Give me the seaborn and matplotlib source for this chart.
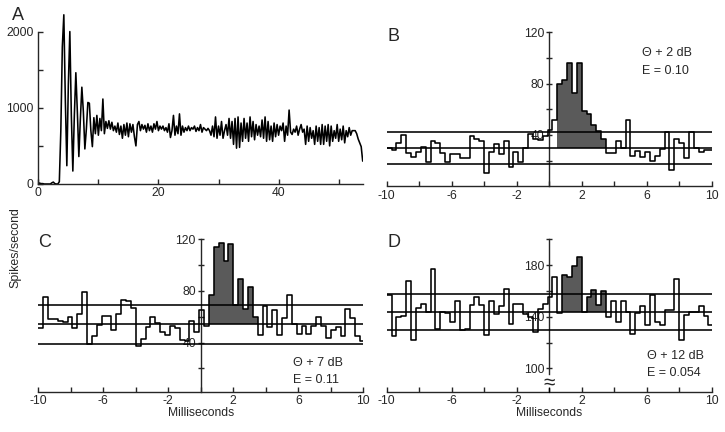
import numpy as np
import pandas as pd
import matplotlib
matplotlib.use("Agg")
import matplotlib.pyplot as plt
import seaborn as sns

# ---------------- data ----------------
# Panel A: PSTH, 0.25 ms bins starting at 0 ms (spikes/second)
a_bin_ms = 0.25
a_rate = [
    15, 10, 5, 5, 0, 0, 0, 0, 0, 15, 25, 5, 0, 0, 30, 700, 1800, 2220, 1100, 240,
    1300, 2000, 900, 170, 900, 1460, 950, 360, 850, 1270, 950, 460, 720, 1070, 1060, 700, 490, 870, 660, 900,
    640, 860, 700, 1115, 660, 820, 730, 830, 720, 810, 700, 760, 680, 800, 650, 760, 600, 780, 640, 800,
    620, 790, 680, 780, 620, 500, 780, 820, 700, 780, 720, 770, 680, 790, 700, 760, 680, 790, 720, 820,
    700, 760, 720, 760, 700, 740, 680, 790, 610, 700, 900, 640, 760, 660, 920, 640, 760, 680, 740, 700,
    760, 700, 740, 720, 760, 690, 740, 700, 780, 680, 740, 720, 700, 730, 700, 640, 760, 620, 880, 600,
    760, 640, 820, 600, 700, 780, 640, 860, 600, 820, 520, 860, 470, 880, 480, 800, 560, 860, 600, 800,
    560, 880, 620, 820, 580, 780, 640, 760, 620, 840, 600, 880, 560, 820, 580, 760, 560, 800, 620, 780,
    640, 760, 700, 800, 560, 760, 640, 970, 680, 650, 720, 680, 760, 640, 720, 780, 680, 720, 520, 760,
    560, 740, 600, 700, 520, 760, 560, 740, 520, 780, 520, 760, 560, 780, 500, 760, 560, 700, 600, 780,
    560, 720, 580, 760, 540, 700, 620, 740, 640, 700, 700, 700, 660, 590, 540, 490, 300,
]
a_xticks = [0, 10, 20, 30, 40, 50]
a_xticklabels = ["0", "", "20", "", "40", ""]
a_yticks = [0, 500, 1000, 1500, 2000]
a_yticklabels = ["0", "", "1000", "", "2000"]

# Panels B-D: cross-correlation histograms, 0.3 ms bins from -10 ms
hist_start_ms = -10.0
hist_bin_ms = 0.3
response_window = (0.5, 3.5)

b_rate = [30, 28.5, 33.5, 40, 26, 23, 27, 31, 19, 35,
          34, 26, 19, 25, 25, 22, 22, 39, 37, 35,
          10, 27, 33, 25, 35, 15, 27, 19, 30, 41,
          37, 36, 39, 44, 52, 80, 83, 96, 73, 96,
          59, 56, 48, 43, 37, 26, 26, 35, 30, 52,
          24, 27.5, 23, 27, 20, 24, 29, 42, 13, 37,
          34, 22, 42, 30, 27, 28, 28]
c_rate = [51, 75, 58, 58, 57, 56, 60, 51, 62, 79,
          39, 45, 53.5, 61, 61, 50, 62, 73, 72, 67,
          37, 43, 52, 60, 55, 48, 46, 53, 51, 42,
          41, 57, 48, 65, 53, 77, 114, 117.5, 103.5, 116.5,
          69, 89, 66, 83, 60, 46, 68, 52, 65, 46,
          59, 77, 54.5, 47, 53, 47, 53, 60, 53, 43.5,
          50, 52, 45, 66, 59, 45, 41]
d_rate = [157, 125, 140, 141, 168, 122, 147, 150, 143.5, 177,
          130.5, 144, 143, 136, 152.5, 130, 130.5, 149, 155.5, 149.5,
          126, 152, 142, 148, 161.5, 134.5, 150, 150, 142, 140,
          128, 146, 150, 155, 171, 143, 172.5, 171, 179.5, 186,
          143.5, 155, 161, 149.5, 160, 140, 152, 136, 152, 143.5,
          127, 143, 148, 133.5, 157, 136, 133.5, 145, 145, 169,
          122, 141.5, 144, 144, 148.5, 141, 133.5]

# reference lines: lower bound, mean, upper bound
b_lines = [17.5, 30.1, 42.6]
c_lines = [38.8, 54.2, 69.2]
d_lines = [129.5, 143.7, 158.0]

b_ylim = (0, 120)
c_ylim = (2, 120)
d_ylim = (82, 200)
b_yticks = [20, 40, 60, 80, 100, 120]
b_yticklabels = ["", "40", "", "80", "", "120"]
c_yticks = [20, 40, 60, 80, 100, 120]
c_yticklabels = ["", "40", "", "80", "", "120"]
d_yticks = [100, 120, 140, 160, 180, 200]
d_yticklabels = ["100", "", "140", "", "180", ""]

hist_xticks = [-10, -8, -6, -4, -2, 0, 2, 4, 6, 8, 10]
hist_xticklabels = ["-10", "", "-6", "", "-2", "", "2", "", "6", "", "10"]

b_text = ["\u0398 + 2 dB", "E = 0.10"]
c_text = ["\u0398 + 7 dB", "E = 0.11"]
d_text = ["\u0398 + 12 dB", "E = 0.054"]

# ---------------- style ----------------
sns.set_style("ticks")
plt.rcParams["font.family"] = ["Liberation Sans", "DejaVu Sans"]
plt.rcParams["axes.linewidth"] = 1.0

W, H = 725.0, 432.0
fig = plt.figure(figsize=(7.25, 4.32), dpi=100)

LW = 1.15
TICK_FS = 8.7


def fx(px):
    return px / W


def fy(py):
    return 1 - py / H


# ---------------- panel A ----------------
axA = fig.add_axes([fx(38.3), fy(184.0), 325.0 / W, (184.0 - 12.5) / H])
dfA = pd.DataFrame({"t": np.arange(len(a_rate)) * a_bin_ms, "rate": a_rate})
sns.lineplot(data=dfA, x="t", y="rate", ax=axA, color="black", lw=LW,
             estimator=None, sort=False)
axA.set_xlim(0, 54.1)
axA.set_ylim(0, 2250)
for s in ["top", "right"]:
    axA.spines[s].set_visible(False)
axA.spines["left"].set_bounds(0, 2000)
axA.spines["bottom"].set_bounds(0, 54.1)
axA.set_xticks(a_xticks)
axA.set_xticklabels(a_xticklabels)
axA.set_yticks(a_yticks)
axA.set_yticklabels(a_yticklabels)
axA.tick_params(axis="both", direction="in", length=3.5, width=1.0,
                labelsize=TICK_FS, pad=2.5)
axA.tick_params(axis="y", pad=3.5)
axA.set_xlabel("")
axA.set_ylabel("")


# ---------------- panels B-D ----------------
def hist_panel(rect, vals, lines, ylim, yticks, yticklabels, spine_low, texts, text_xy):
    ax = fig.add_axes(rect)
    vals = np.asarray(vals, dtype=float)
    n = len(vals)
    edges = hist_start_ms + hist_bin_ms * np.arange(n + 1)
    ext = np.append(vals, vals[-1])
    mean = lines[1]
    win = (edges >= response_window[0] - 1e-6) & (edges < response_window[1] - 1e-6)
    fillv = np.where(win & (ext > mean), ext, mean)
    ax.fill_between(edges, mean, fillv, step="post", color="#5a5a5a", lw=0, zorder=2)
    for y in lines:
        ax.axhline(y, color="black", lw=LW, zorder=3)
    df = pd.DataFrame({"ms": edges, "rate": ext})
    sns.lineplot(data=df, x="ms", y="rate", ax=ax, color="black", lw=LW,
                 drawstyle="steps-post", estimator=None, sort=False, zorder=4)
    ax.set_xlim(-10, 10)
    ax.set_ylim(*ylim)
    ax.spines["top"].set_visible(False)
    ax.spines["right"].set_visible(False)
    ax.spines["left"].set_position(("data", 0))
    ax.spines["left"].set_bounds(spine_low, ylim[1])
    ax.set_xticks(hist_xticks)
    ax.set_xticklabels(hist_xticklabels)
    ax.set_yticks(yticks)
    ax.set_yticklabels(yticklabels)
    ax.tick_params(axis="x", direction="in", length=3.5, width=1.0,
                   labelsize=TICK_FS, pad=2.5)
    ax.tick_params(axis="y", direction="inout", length=4, width=1.0,
                   labelsize=TICK_FS, pad=1.5)
    ax.set_xlabel("")
    ax.set_ylabel("")
    fig.text(fx(text_xy[0]), fy(text_xy[1]), texts[0], ha="left", va="center", fontsize=9)
    fig.text(fx(text_xy[0]), fy(text_xy[2]), texts[1], ha="left", va="center", fontsize=9)
    return ax


axB = hist_panel([fx(386.7), fy(186.3), 325.0 / W, 154.0 / H], b_rate, b_lines,
                 b_ylim, b_yticks, b_yticklabels, 0, b_text, (641.7, 53.3, 70.7))
axC = hist_panel([fx(38.3), fy(391.7), 325.0 / W, 152.4 / H], c_rate, c_lines,
                 c_ylim, c_yticks, c_yticklabels, c_ylim[0], c_text, (293.3, 363.3, 380.0))
axD = hist_panel([fx(386.7), fy(391.7), 325.0 / W, 152.4 / H], d_rate, d_lines,
                 d_ylim, d_yticks, d_yticklabels, 96, d_text, (646.7, 356.0, 373.3))
# axis-break mark on D
axD.text(0, 89.0, "\u2248", ha="center", va="center", fontsize=15, zorder=5)
axD.plot([0, 0], [d_ylim[0], 84.5], color="black", lw=1.0, clip_on=False, zorder=5)

# ---------------- labels ----------------
fig.text(fx(12), fy(20), "A", fontsize=13, ha="left", va="baseline")
fig.text(fx(387), fy(41), "B", fontsize=13, ha="left", va="baseline")
fig.text(fx(38), fy(247), "C", fontsize=13, ha="left", va="baseline")
fig.text(fx(387), fy(247), "D", fontsize=13, ha="left", va="baseline")

fig.text(fx(15), fy(248), "Spikes/second", rotation=90, ha="center", va="center", fontsize=8.9)
fig.text(fx(200.7), fy(413), "Milliseconds", ha="center", va="center", fontsize=8.7)
fig.text(fx(549.3), fy(413), "Milliseconds", ha="center", va="center", fontsize=8.7)

fig.savefig("out.png", dpi=100)
